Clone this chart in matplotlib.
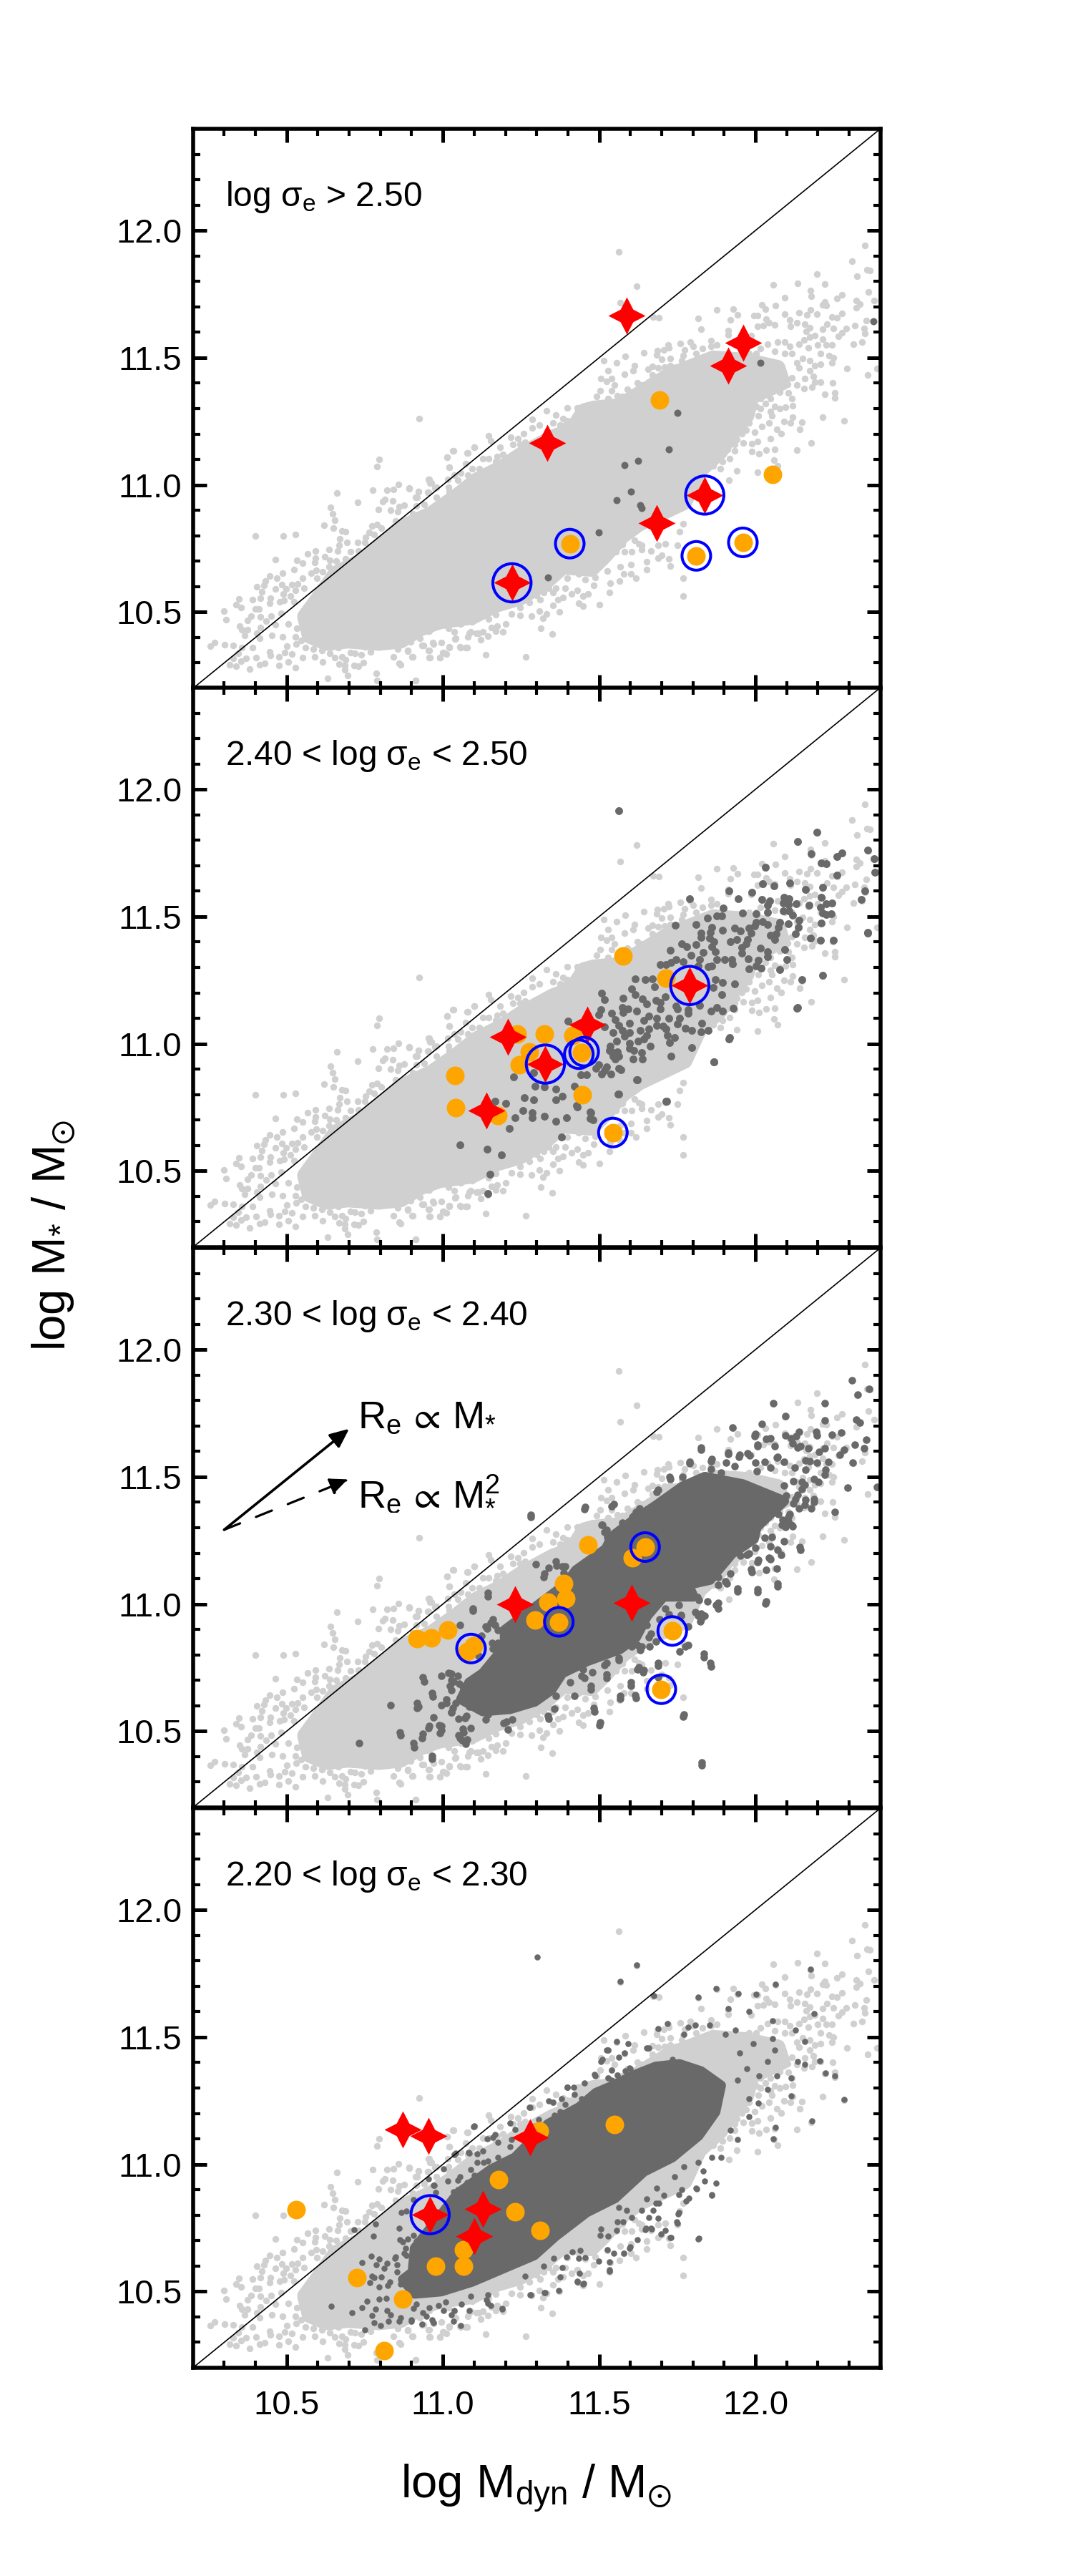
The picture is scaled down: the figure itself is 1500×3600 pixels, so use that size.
import matplotlib
matplotlib.use("Agg")
import matplotlib.pyplot as plt
import matplotlib.ticker as mticker
from matplotlib.path import Path

plt.rcParams['font.family'] = ['Liberation Sans', 'DejaVu Sans']
plt.rcParams['mathtext.fontset'] = 'custom'
plt.rcParams['mathtext.rm'] = 'Liberation Sans'
plt.rcParams['mathtext.it'] = 'Liberation Sans'
plt.rcParams['mathtext.bf'] = 'Liberation Sans'
plt.rcParams['mathtext.fallback'] = 'stix'

# dense part of the shared grey sample (outline)
grey_core = [(10.559,10.482),(10.604,10.557),(10.658,10.651),(10.734,10.698),(10.81,10.773),(10.864,10.83),(10.964,10.886),(11.041,10.952),(11.109,11.018),(11.186,11.065),(11.254,11.121),(11.353,11.187),(11.414,11.215),(11.453,11.29),(11.483,11.30),(11.567,11.31),(11.651,11.375),(11.72,11.427),(11.788,11.46),(11.865,11.497),(11.971,11.488),(12.071,11.46),(12.086,11.403),(11.987,11.347),(11.971,11.272),(11.926,11.206),(11.887,11.131),(11.819,11.055),(11.773,10.933),(11.628,10.848),(11.575,10.801),(11.514,10.717),(11.475,10.67),(11.384,10.679),(11.323,10.613),(11.247,10.557),(11.17,10.529),(11.094,10.482),(10.987,10.463),(10.926,10.435),(10.865,10.388),(10.795,10.379),(10.696,10.388),(10.627,10.379),(10.574,10.407)]

grey_low = [(10.925,11.260),(10.795,11.10),(10.788,11.073),(10.66,10.967),(10.727,10.932),(10.64,10.912),(10.646,10.886),(10.655,10.86),(10.62,10.841),(10.65,10.83),(10.677,10.82),(10.688,10.817),(10.40,10.799),(10.488,10.798),(10.527,10.804),(10.669,10.787),(10.667,10.764),(10.692,10.773),(10.727,10.773),(10.593,10.74),(10.636,10.747),(10.662,10.74),(10.568,10.729),(10.623,10.717),(10.592,10.712),(10.464,10.706),(10.532,10.703),(10.551,10.693),(10.591,10.696),(10.639,10.703),(10.658,10.70),(10.524,10.668),(10.487,10.652),(10.578,10.654),(10.595,10.665),(10.616,10.659),(10.635,10.677),(10.446,10.642),(10.469,10.632),(10.433,10.623),(10.551,10.632),(10.597,10.634),(10.428,10.606),(10.404,10.599),(10.485,10.608),(10.517,10.609),(10.536,10.612),(10.463,10.59),(10.42,10.581),(10.498,10.59),(10.528,10.585),(10.555,10.595),(10.49,10.571),(10.511,10.562),(10.347,10.552),(10.391,10.55),(10.417,10.554),(10.448,10.555),(10.337,10.529),(10.355,10.517),(10.40,10.512),(10.412,10.512),(10.446,10.536),(10.477,10.54),(10.492,10.545),(10.524,10.54),(10.299,10.504),(10.305,10.471),(10.385,10.484),(10.416,10.482),(10.45,10.484),(10.482,10.496),(10.375,10.468),(10.434,10.465),(10.349,10.446),(10.356,10.43),(10.375,10.43),(10.417,10.44),(10.505,10.454),(10.463,10.449),(10.366,10.407),(10.404,10.418),(10.414,10.397),(10.452,10.407),(10.486,10.402),(10.528,10.402),(10.532,10.435),(10.546,10.388),(10.255,10.367),(10.269,10.379),(10.302,10.371),(10.328,10.369),(10.356,10.36),(10.391,10.36),(10.50,10.366),(10.53,10.374),(10.559,10.36),(10.585,10.355),(10.446,10.343),(10.494,10.341),(10.517,10.336),(10.346,10.339),(10.612,10.35),(10.639,10.339),(10.704,10.341),(10.719,10.339),(10.33,10.317),(10.369,10.317),(10.402,10.32),(10.447,10.33),(10.475,10.324),(10.551,10.322),(10.589,10.324),(10.654,10.32),(10.677,10.324),(10.738,10.332),(10.768,10.343),(10.841,10.324),(10.902,10.324),(10.957,10.322),(10.99,10.32),(10.317,10.292),(10.337,10.286),(10.354,10.307),(10.414,10.294),(10.43,10.299),(10.476,10.291),(10.505,10.305),(10.527,10.282),(10.614,10.303),(10.667,10.296),(10.685,10.289),(10.688,10.313),(10.715,10.289),(10.73,10.286),(10.746,10.301),(10.86,10.299),(10.382,10.277),(10.685,10.273),(10.696,10.252),(10.631,10.238),(10.786,10.258),(10.789,10.23),(10.912,10.231),(10.952,10.426),(11.036,10.421),(11.085,10.416),(11.108,10.418),(11.055,10.362),(11.074,10.36),(11.02,10.364),(10.967,10.379),(10.933,10.369),(10.887,10.35),(10.856,10.355),(10.795,10.364),(10.749,10.364),(10.665,10.36),(10.643,10.364),(10.955,10.35),(11.001,10.341),(11.039,10.393),(11.013,11.11),(11.032,11.135),(11.077,11.126),(11.10,11.148),(11.02,11.07),(11.074,11.084),(10.955,11.022),(10.959,11.008),(11.016,11.022),(11.036,11.037),(10.893,10.985),(10.858,11.002),(10.822,10.98),(10.841,10.982),(10.775,10.978),(10.921,10.975),(10.952,10.971),(10.974,10.988),(10.814,10.944),(10.807,10.933),(10.839,10.936),(10.913,10.952),(10.875,10.919),(10.86,10.914),(10.794,10.903),(10.833,10.9),(10.856,10.896),(10.916,10.916),(10.849,10.858),(10.772,10.839),(10.789,10.844),(10.803,10.83),(10.763,10.813),(10.78,10.806),(10.753,10.794),(10.883,10.849),(10.73,10.74),(10.704,10.736),(10.749,10.773),(10.688,10.708)]

grey_high = [(11.563,11.916),(11.619,11.781),(11.568,11.716),(11.672,11.659),(11.691,11.657),(11.642,11.519),(11.584,11.504),(11.557,11.481),(11.514,11.488),(11.817,11.655),(11.826,11.613),(11.876,11.689),(11.929,11.692),(11.943,11.669),(11.92,11.649),(11.996,11.667),(12.006,11.667),(12.021,11.707),(12.031,11.692),(12.057,11.787),(12.134,11.792),(12.065,11.706),(12.093,11.735),(12.095,11.670),(12.034,11.653),(12.006,11.624),(12.026,11.626),(12.044,11.638),(12.061,11.629),(12.11,11.648),(12.112,11.624),(12.132,11.638),(12.139,11.676),(12.166,11.669),(12.177,11.688),(12.176,11.765),(12.179,11.743),(12.197,11.828),(12.222,11.789),(12.216,11.709),(12.227,11.704),(12.222,11.718),(12.261,11.732),(12.277,11.746),(12.309,11.879),(12.326,11.821),(12.351,11.942),(12.357,11.845),(12.366,11.842),(12.361,11.758),(12.322,11.726),(12.334,11.712),(12.322,11.697),(12.38,11.725),(12.197,11.671),(12.245,11.66),(12.26,11.657),(12.277,11.674),(12.355,11.646),(12.319,11.627),(12.347,11.615),(12.351,11.596),(12.29,11.615),(12.277,11.597),(12.265,11.584),(12.25,11.615),(12.229,11.632),(12.216,11.613),(12.174,11.618),(12.158,11.632),(12.162,11.604),(12.189,11.587),(12.174,11.582),(12.155,11.571),(12.216,11.573),(12.313,11.554),(12.342,11.563),(12.246,11.549),(12.227,11.549),(12.2,11.549),(12.17,11.54),(12.139,11.554),(12.25,11.499),(12.246,11.479),(12.208,11.516),(12.235,11.507),(12.294,11.457),(12.359,11.433),(12.39,11.457),(12.208,11.474),(12.189,11.469),(12.174,11.488),(12.151,11.497),(12.132,11.479),(12.139,11.46),(12.174,11.45),(12.158,11.418),(12.185,11.427),(12.208,11.403),(12.248,11.401),(12.189,11.403),(12.181,11.385),(12.155,11.38),(12.132,11.394),(12.116,11.422),(12.103,11.396),(12.086,11.417),(12.071,11.389),(12.078,11.366),(12.105,11.361),(12.255,11.361),(12.254,11.342),(12.223,11.356),(12.116,11.338),(12.096,11.307),(12.119,11.311),(12.077,11.3),(12.216,11.265),(12.283,11.251),(12.149,11.246),(12.119,11.267),(12.113,11.243),(12.091,11.25),(12.052,11.272),(12.044,11.243),(12.021,11.231),(12.143,11.218),(12.068,11.218),(12.082,11.201),(12.048,11.181),(11.997,11.208),(11.971,11.215),(11.956,11.201),(12.006,11.17),(11.961,11.164),(11.988,11.161),(12.179,11.165),(12.133,11.137),(12.063,11.14),(12.035,11.137),(12.012,11.123),(11.988,11.131),(12.059,11.097),(12.071,11.076),(12.006,11.051),(11.941,11.055),(11.916,11.018),(11.933,11.135),(11.918,11.102),(11.791,11.563),(11.76,11.557),(11.72,11.549),(11.723,11.54),(11.706,11.53),(11.687,11.527),(11.683,11.511),(11.727,11.497),(11.70,11.493),(11.773,11.53),(11.8,11.544),(11.83,11.535),(11.857,11.568),(11.876,11.549),(11.857,11.544),(11.913,11.606),(11.914,11.591),(11.987,11.587),(11.769,11.507),(11.807,11.479),(11.746,11.463),(11.727,11.469),(11.71,11.463),(11.67,11.467),(11.657,11.455),(11.613,11.469),(11.609,11.448),(11.581,11.436),(11.529,11.448),(11.506,11.417),(11.54,11.417),(11.548,11.392),(11.525,11.408),(11.504,11.37),(11.54,11.369),(11.59,11.375),(11.622,11.401),(11.659,11.403),(11.559,11.352),(11.529,11.338),(11.491,11.347)]

grey_mid = [(11.769,10.632),(11.769,10.562),(11.727,10.681),(11.688,10.712),(11.701,10.724),(11.723,10.71),(11.75,10.764),(11.651,10.667),(11.653,10.698),(11.601,10.686),(11.601,10.651),(11.617,10.634),(11.579,10.649),(11.567,10.679),(11.566,10.621),(11.535,10.613),(11.533,10.576),(11.502,10.529),(11.527,10.662),(11.498,10.679),(11.487,10.637),(11.483,10.604),(11.464,10.571),(11.449,10.524),(11.434,10.535),(11.449,10.562),(11.43,10.585),(11.411,10.571),(11.384,10.557),(11.369,10.55),(11.372,10.5),(11.353,10.527),(11.331,10.493),(11.308,10.505),(11.321,10.477),(11.283,10.484),(11.314,10.435),(11.351,10.414),(11.247,10.488),(11.22,10.493),(11.201,10.453),(11.192,10.422),(11.174,10.446),(11.155,10.439),(11.17,10.425),(11.144,10.406),(11.128,10.421),(11.113,10.418),(11.09,10.421),(11.079,10.402),(11.121,10.391),(11.056,10.361),(11.077,10.36),(11.021,10.361),(10.996,10.381),(11.041,10.397),(10.97,10.374),(10.938,10.369),(10.957,10.35),(10.999,10.341),(11.01,10.336),(10.958,10.322),(10.991,10.322),(10.903,10.324),(10.888,10.345),(11.136,10.331),(11.266,10.324),(10.912,10.231),(10.865,10.294),(11.276,10.538),(11.311,10.548),(11.353,10.576),(11.392,10.595),(11.434,10.651),(11.456,10.627),(11.529,10.726),(11.554,10.738),(11.581,10.736),(11.605,10.736),(11.636,10.745),(11.666,10.74),(11.712,10.769),(11.75,10.91),(11.769,10.848),(11.758,10.815),(11.575,10.766),(11.628,10.769),(11.689,10.764),(11.147,11.194),(11.153,11.173),(11.1,11.149),(11.034,11.135),(11.079,11.126),(11.014,11.11),(11.021,11.069),(10.957,11.022),(10.963,11.008),(10.893,10.987),(10.922,10.975),(10.979,10.99),(10.955,10.971),(10.917,10.952),(11.048,11.018),(11.021,10.973),(11.094,11.065),(11.128,11.102),(11.174,11.112),(11.182,11.149),(11.216,11.187),(11.239,11.182),(11.258,11.201),(11.285,11.257),(11.332,11.292),(11.361,11.276),(11.384,11.262),(11.392,11.234),(11.414,11.248),(11.399,11.302),(11.43,11.304)]

grey_fringe = [(12.017,11.403),(12.032,11.366),(12.048,11.338),(12.017,11.338),(12.002,11.356),(12.063,11.422),(12.048,11.46),(12.032,11.479),(12.078,11.469),(12.093,11.516),(12.116,11.516),(12.063,11.526),(12.04,11.554),(12.093,11.563),(12.071,11.563),(12.109,11.544),(12.017,11.3),(12.032,11.319),(12.002,11.309),(11.987,11.281),(12.01,11.272),(11.979,11.243),(12.063,11.309),(12.048,11.29),(11.949,11.225),(11.941,11.178),(11.91,11.14),(11.933,11.159),(11.88,11.112),(11.895,11.093),(11.865,11.074),(11.887,11.065),(11.849,11.479),(11.826,11.497),(11.811,11.516),(11.865,11.516),(11.765,11.488),(11.742,11.46),(11.689,11.46),(11.67,11.432),(11.704,11.441),(11.636,11.394),(11.605,11.366),(11.575,11.347),(11.514,11.319),(11.544,11.319),(11.651,11.366),(11.987,11.488),(12.002,11.516),(11.979,11.516),(12.017,11.535),(11.399,10.632),(11.414,10.67),(11.445,10.679),(11.475,10.679),(11.491,10.717),(11.521,10.745),(11.544,10.782),(11.323,10.576),(11.338,10.595),(11.361,10.595),(11.3,10.566),(11.247,10.519),(11.17,10.491),(11.147,10.472),(11.117,10.482),(11.094,10.463),(11.056,10.453),(11.018,10.435),(10.987,10.444),(10.957,10.425),(10.926,10.397),(10.896,10.383),(11.613,10.783),(11.636,10.764),(11.018,10.99),(10.979,10.952),(10.941,10.924),(10.903,10.886),(11.056,11.046),(11.079,11.037),(11.117,11.065),(11.147,11.102),(11.17,11.093),(11.193,11.121),(11.224,11.159),(11.247,11.159),(11.262,11.168),(11.285,11.225),(11.308,11.234),(11.353,11.243),(11.376,11.234),(11.399,11.253)]

# panel 1: log sigma > 2.50
dark_1 = [(12.377,11.643),(12.017,11.481),(11.751,11.284),(11.723,11.14),(11.581,11.078),(11.625,11.094),(11.602,10.975),(11.555,10.941),(11.632,10.921),(11.637,10.909),(11.498,10.812),(11.336,10.637)]
orange_1 = [(11.693,11.334),(12.055,11.041),(11.406,10.769),(11.811,10.721),(11.96,10.774)]
stars_1 = [(11.589,11.666),(11.96,11.559),(11.914,11.468),(11.333,11.166),(11.838,10.96),(11.683,10.851),(11.221,10.615)]
ring_big_1 = [(11.838,10.96),(11.221,10.615)]
ring_small_1 = [(11.406,10.769),(11.811,10.721),(11.96,10.774)]

# panel 2: 2.40 - 2.50
dark_2 = [(12.198,11.832),(12.134,11.795),(12.36,11.761),(12.379,11.728),(12.383,11.674),(12.276,11.751),(12.261,11.735),(12.179,11.747),(12.211,11.711),(12.227,11.707),(12.031,11.695),(12.26,11.662),(12.024,11.629),(12.06,11.62),(12.111,11.633),(12.215,11.616),(12.161,11.606),(12.35,11.602),(12.34,11.567),(11.915,11.601),(11.989,11.594),(11.944,11.57),(11.789,11.57),(12.211,11.575),(12.021,11.566),(12.092,11.575),(12.107,11.57),(12.046,11.561),(12.04,11.545),(12.089,11.552),(12.105,11.547),(12.13,11.55),(12.172,11.545),(12.227,11.55),(12.246,11.554),(12.208,11.536),(11.897,11.533),(11.958,11.514),(12.002,11.512),(12.04,11.518),(12.089,11.523),(12.108,11.523),(12.215,11.514),(12.242,11.512),(12.227,11.509),(12.118,11.505),(11.876,11.502),(11.893,11.503),(11.847,11.495),(12.139,11.486),(12.024,11.481),(12.04,11.47),(12.002,11.476),(12.078,11.476),(12.105,11.472),(12.211,11.474),(11.811,11.469),(11.744,11.467),(11.86,11.458),(11.933,11.456),(11.979,11.456),(11.998,11.462),(12.074,11.458),(12.137,11.458),(11.895,11.446),(11.952,11.443),(11.855,11.439),(11.825,11.436),(11.986,11.436),(12.359,11.437),(12.066,11.432),(12.128,11.432),(12.047,11.427),(11.826,11.418),(11.853,11.415),(12.177,11.415),(12.061,11.411),(11.975,11.411),(11.94,11.411),(12.208,11.406),(12.249,11.406),(11.921,11.401),(11.868,11.401),(11.971,11.392),(11.765,11.392),(11.811,11.39),(11.78,11.382),(11.86,11.382),(11.956,11.378),(12.015,11.376),(12.093,11.371),(11.727,11.368),(11.872,11.363),(11.832,11.359),(12.04,11.363),(11.957,11.357),(11.794,11.348),(12.038,11.343),(11.977,11.335),(11.902,11.331),(11.876,11.331),(11.746,11.331),(11.924,11.331),(11.769,11.323),(11.822,11.331),(12.009,11.329),(12.101,11.331),(11.731,11.321),(11.715,11.312),(11.695,11.31),(11.927,11.314),(11.86,11.307),(11.849,11.302),(12.002,11.307),(11.818,11.307),(12.018,11.296),(11.979,11.293),(12.078,11.291),(12.215,11.269),(11.872,11.251),(11.895,11.241),(11.934,11.235),(12.148,11.251),(11.615,11.255),(11.647,11.251),(11.67,11.255),(11.677,11.223),(11.605,11.216),(11.864,11.221),(11.616,11.194),(11.893,11.192),(11.509,11.199),(11.517,11.173),(11.576,11.18),(11.712,11.185),(11.639,11.175),(11.681,11.171),(11.696,11.161),(11.651,11.157),(11.822,11.152),(11.746,11.147),(11.876,11.143),(11.929,11.14),(12.133,11.141),(11.506,11.133),(11.574,11.143),(11.593,11.138),(11.619,11.128),(11.696,11.138),(11.75,11.138),(11.784,11.133),(11.857,11.128),(11.895,11.128),(11.498,11.114),(11.54,11.119),(11.576,11.124),(11.784,11.119),(11.658,11.11),(11.723,11.1),(11.757,11.1),(11.685,11.1),(11.551,11.095),(11.597,11.081),(11.643,11.091),(11.828,11.08),(11.685,11.072),(11.704,11.069),(11.75,11.077),(11.563,11.072),(11.517,11.067),(11.776,11.06),(11.796,11.053),(11.658,11.058),(11.849,11.053),(11.632,11.053),(11.574,11.053),(11.715,11.058),(11.544,11.044),(11.826,11.046),(11.597,11.044),(11.651,11.034),(11.719,11.034),(11.915,11.02),(11.742,11.025),(11.582,11.03),(11.555,11.011),(11.643,11.018),(11.624,11.011),(11.725,11.006),(11.597,11.001),(11.664,10.99),(11.796,10.986),(11.536,10.99),(11.597,10.983),(11.612,10.973),(11.635,10.964),(11.54,10.969),(11.559,10.969),(11.544,10.95),(11.563,10.95),(11.551,10.939),(11.609,10.94),(11.638,10.94),(11.731,10.95),(11.867,10.93),(11.498,10.917),(11.523,10.908),(11.49,10.903),(11.569,10.898),(11.46,10.879),(11.441,10.879),(11.509,10.882),(11.538,10.882),(11.62,10.858),(11.715,10.774),(11.56,10.801),(11.42,10.832),(11.429,10.752),(11.471,10.732),(11.471,10.705),(11.227,10.87),(11.291,10.887),(11.401,11.088),(11.294,10.834),(11.324,10.83),(11.361,10.823),(11.167,10.773),(11.2,10.765),(11.26,10.787),(11.291,10.78),(11.361,10.78),(11.383,10.794),(11.257,10.737),(11.286,10.73),(11.324,10.715),(11.231,10.708),(11.286,10.708),(11.395,10.708),(11.361,10.694),(11.428,10.758),(11.473,10.73),(11.48,10.701),(11.212,10.668),(11.38,10.633),(11.055,10.603),(11.142,10.586),(11.187,10.562),(11.151,10.486),(11.145,10.411),(11.562,10.801),(11.716,10.775),(11.562,10.902),(11.622,10.859),(11.868,10.93),(11.917,11.024),(12.136,11.143),(12.36,11.435),(11.562,11.916),(11.517,10.895),(11.532,10.973)]
orange_2 = [(11.577,11.345),(11.714,11.257),(11.237,11.039),(11.324,11.039),(11.416,11.034),(11.276,10.968),(11.245,10.916),(11.443,10.966),(11.038,10.874),(11.04,10.75),(11.175,10.718),(11.446,10.798),(11.544,10.651)]
stars_2 = [(11.209,11.027),(11.461,11.074),(11.328,10.92),(11.139,10.737),(11.79,11.229)]
ring_big_2 = [(11.328,10.92),(11.79,11.229)]
ring_small_2 = [(11.435,10.959),(11.452,10.969),(11.544,10.651)]

# panel 3: 2.30 - 2.40
dark_core_3 = [(11.084,10.691),(11.128,10.728),(11.198,10.832),(11.198,10.898),(11.391,11.076),(11.426,11.133),(11.522,11.217),(11.54,11.264),(11.61,11.33),(11.68,11.386),(11.767,11.462),(11.838,11.5),(11.96,11.471),(12.092,11.405),(12.004,11.302),(11.995,11.255),(11.925,11.198),(11.855,11.095),(11.785,11.076),(11.802,11.029),(11.706,11.029),(11.654,10.954),(11.618,10.869),(11.566,10.822),(11.461,10.775),(11.382,10.728),(11.347,10.662),(11.294,10.616),(11.215,10.587),(11.128,10.578),(11.058,10.625)]
dark_3 = [(12.31,11.88),(12.364,11.845),(12.327,11.822),(12.057,11.789),(12.222,11.789),(12.096,11.738),(12.222,11.722),(12.322,11.725),(12.334,11.713),(12.021,11.709),(11.927,11.695),(12.195,11.678),(12.275,11.675),(12.0,11.669),(12.14,11.678),(12.114,11.653),(12.245,11.666),(12.355,11.646),(12.047,11.653),(12.006,11.627),(11.826,11.616),(12.319,11.627),(12.349,11.613),(12.069,11.577),(11.912,11.596),(11.95,11.587),(11.976,11.592),(12.136,11.616),(11.86,11.57),(12.285,11.606),(12.27,11.587),(12.203,11.599),(11.789,11.56),(12.233,11.56),(12.311,11.556),(12.173,11.563),(11.726,11.499),(12.389,11.46),(12.295,11.458),(11.689,11.448),(12.225,11.527),(12.188,11.491),(12.158,11.47),(12.121,11.484),(12.099,11.427),(12.188,11.413),(12.158,11.391),(12.128,11.413),(12.255,11.362),(12.114,11.312),(12.084,11.312),(12.106,11.341),(11.629,11.377),(11.547,11.394),(11.455,11.381),(11.282,11.35),(11.607,11.341),(11.51,11.312),(11.525,11.291),(11.562,11.284),(12.143,11.224),(12.047,11.226),(12.009,11.172),(12.044,11.183),(11.987,11.136),(12.069,11.14),(11.979,11.198),(12.072,11.08),(11.942,11.062),(12.006,11.057),(12.035,11.009),(11.905,11.09),(11.92,11.119),(11.361,11.169),(11.324,11.119),(11.383,11.148),(11.145,11.043),(11.096,10.983),(11.16,10.94),(11.137,10.911),(11.175,10.897),(11.815,11.026),(11.875,10.997),(11.808,10.968),(11.756,10.997),(11.711,10.983),(11.827,10.961),(11.827,10.94),(11.763,10.954),(11.652,10.918),(11.666,10.883),(11.622,10.84),(11.637,10.832),(11.681,10.854),(11.786,10.84),(11.835,10.804),(11.856,10.768),(11.562,10.789),(11.525,10.768),(11.473,10.797),(11.443,10.754),(11.443,10.718),(11.689,10.768),(11.626,10.751),(11.644,10.739),(11.525,10.722),(11.473,10.678),(11.601,10.692),(11.689,10.711),(11.567,10.639),(11.616,10.642),(11.483,10.59),(11.503,10.536),(11.771,10.567),(11.829,10.378),(11.361,10.639),(11.336,10.56),(11.204,10.539),(11.145,10.567),(11.085,10.596),(11.041,10.61),(11.011,10.625),(10.996,10.603),(11.07,10.553),(11.063,10.51),(11.055,10.474),(11.078,10.467),(11.026,10.574),(10.988,10.524),(10.956,10.521),(10.996,10.503),(10.936,10.489),(10.862,10.496),(10.906,10.453),(10.966,10.403),(10.732,10.453),(10.832,10.603),(10.917,10.61),(10.921,10.596),(10.966,10.65),(10.936,10.711),(11.026,10.725),(11.033,10.696),(11.063,10.675),(11.026,10.66),(11.175,10.847),(11.16,10.825),(11.19,10.797),(11.115,10.797),(11.1,10.696)]
dark_3_detail = [(11.997,11.661),(12.096,11.664),(12.131,11.659),(12.197,11.664),(12.035,11.65),(12.061,11.622),(12.006,11.62),(12.118,11.631),(12.17,11.612),(12.144,11.622),(12.223,11.612),(11.826,11.607),(11.912,11.589),(11.947,11.579),(11.982,11.584),(11.859,11.563),(11.907,11.556),(11.789,11.554),(12.0,11.556),(12.07,11.579),(12.03,11.56),(12.091,11.56),(12.161,11.565),(12.197,11.556),(11.859,11.532),(11.934,11.542),(12.004,11.523),(12.048,11.537),(12.126,11.537),(12.223,11.509),(11.89,11.518),(11.767,11.5),(11.728,11.492),(12.161,11.528),(12.148,11.481),(12.201,11.481),(12.148,11.452),(12.135,11.429),(12.091,11.466),(12.161,11.41),(12.188,11.401),(11.684,11.441),(11.745,11.443),(11.719,11.424),(11.697,11.401),(12.122,11.396),(12.179,11.377),(12.139,11.377),(11.541,11.385),(11.454,11.373),(11.618,11.363),(11.61,11.349),(12.074,11.354),(12.109,11.354),(11.282,11.341),(11.509,11.311),(11.575,11.321),(12.087,11.33),(12.105,11.323),(12.118,11.305),(12.096,11.302),(11.518,11.283),(11.566,11.283),(11.526,11.264),(12.03,11.26),(12.052,11.264),(12.091,11.246),(12.144,11.213),(12.07,11.213),(12.083,11.194),(12.0,11.222),(11.973,11.194),(11.951,11.189),(12.048,11.175),(12.008,11.166),(12.035,11.135),(11.989,11.125),(12.07,11.07),(11.943,11.05),(12.006,11.046),(12.033,11.001),(11.881,11.105),(11.908,11.081),(11.881,11.076),(11.297,11.156),(11.363,11.152),(11.338,11.142),(11.391,11.147),(11.386,11.123),(11.322,11.107),(11.82,11.015),(11.846,11.01),(11.881,11.006),(11.881,10.982),(11.837,10.954),(11.816,10.954),(11.824,10.931),(11.763,10.957),(11.724,10.959),(11.693,10.94),(11.785,10.912),(11.776,10.832),(11.757,10.813),(11.145,11.031),(11.096,10.973),(11.055,10.918),(11.154,10.926),(11.167,10.917),(11.141,10.903),(11.123,10.874),(11.157,10.846),(11.172,10.827),(10.939,10.696),(10.996,10.719),(11.018,10.729),(11.047,10.719),(11.027,10.7),(11.053,10.686),(11.023,10.677),(10.968,10.636),(10.918,10.592),(11.01,10.611),(11.031,10.592),(11.027,10.573),(11.075,10.559),(11.049,10.55),(10.97,10.555),(10.953,10.512),(10.996,10.522),(10.99,10.492),(11.088,10.511),(11.066,10.494),(11.049,10.484),(11.062,10.465),(11.073,10.451),(10.933,10.473),(10.909,10.437),(10.966,10.392),(10.865,10.484),(11.194,10.531),(11.207,10.506),(11.222,10.545),(11.138,10.545),(11.357,10.587),(11.338,10.55),(11.421,10.639),(11.474,10.664),(11.484,10.578),(11.502,10.523),(11.524,10.709),(11.562,10.78),(11.605,10.832),(11.632,10.818),(11.662,10.832),(11.658,10.87),(11.636,10.912),(11.689,10.756),(11.623,10.742),(11.64,10.733),(11.601,10.679),(11.568,10.627),(11.617,10.63),(11.769,10.556),(11.835,10.792),(11.857,10.755),(11.829,10.365),(11.518,10.761),(11.478,10.733),(11.452,10.71),(11.408,10.691),(11.448,10.743)]
orange_3 = [(11.465,11.232),(11.647,11.224),(11.607,11.183),(11.386,11.08),(11.394,11.021),(11.336,11.007),(11.294,10.937),(11.371,10.93),(11.015,10.897),(10.963,10.868),(10.917,10.864),(11.097,10.835),(11.078,10.814),(11.734,10.894),(11.699,10.665)]
stars_3 = [(11.231,11.0),(11.604,11.004)]
ring_small_3 = [(11.647,11.224),(11.371,10.93),(11.09,10.825),(11.734,10.894),(11.699,10.665)]
arrow_start = (10.30,11.292)
arrow_end_solid = (10.70,11.689)
arrow_end_dash = (10.70,11.49)
relation_x = 10.728
relation_y = [11.692, 11.391]

# panel 4: 2.20 - 2.30
dark_core_4 = [(10.903,10.576),(10.91,10.67),(11.048,10.886),(11.154,10.98),(11.231,11.027),(11.337,11.159),(11.437,11.225),(11.49,11.281),(11.544,11.309),(11.605,11.347),(11.681,11.384),(11.757,11.394),(11.826,11.366),(11.89,11.31),(11.872,11.206),(11.818,11.112),(11.734,11.027),(11.643,10.971),(11.551,10.867),(11.46,10.811),(11.36,10.717),(11.292,10.642),(11.2,10.594),(11.093,10.538),(10.994,10.5),(10.91,10.491),(10.872,10.547)]
dark_4 = [(11.301,11.814),(11.619,11.784),(11.567,11.719),(11.674,11.663),(11.875,11.69),(11.816,11.656),(11.944,11.672),(12.002,11.669),(12.176,11.766),(12.064,11.708),(11.912,11.613),(11.979,11.6),(11.786,11.538),(11.719,11.552),(11.689,11.534),(11.808,11.547),(11.853,11.547),(12.054,11.565),(12.188,11.592),(12.128,11.529),(11.935,11.529),(11.994,11.475),(11.905,11.511),(11.771,11.511),(11.659,11.457),(11.592,11.475),(11.555,11.484),(11.525,11.448),(11.51,11.412),(11.599,11.376),(12.054,11.493),(12.158,11.484),(12.061,11.448),(12.039,11.403),(11.95,11.439),(12.158,11.394),(12.207,11.407),(12.225,11.358),(12.255,11.349),(12.114,11.34),(12.069,11.349),(12.012,11.349),(11.972,11.376),(11.942,11.331),(12.114,11.268),(12.039,11.295),(12.009,11.242),(11.979,11.259),(12.283,11.254),(12.181,11.17),(12.064,11.146),(12.058,11.101),(11.979,11.188),(11.92,11.134),(11.942,11.098),(11.89,11.026),(11.86,10.882),(11.86,11.026),(11.816,11.008),(11.771,10.99),(11.813,10.904),(11.756,10.882),(11.756,10.811),(11.681,10.847),(11.711,10.739),(11.729,10.712),(11.82,10.708),(11.666,10.748),(11.649,10.748),(11.599,10.676),(11.532,10.586),(11.45,10.532),(11.431,10.541),(11.324,10.496),(11.279,10.487),(11.19,10.434),(11.145,10.452),(11.383,10.595),(11.435,10.631),(11.547,10.649),(11.622,10.703),(11.264,10.559),(11.354,10.631),(11.577,10.775),(11.503,10.721),(11.562,10.829),(11.652,10.864),(11.145,10.487),(11.085,10.425),(11.026,10.407),(10.966,10.389),(10.906,10.434),(10.899,10.389),(10.936,10.416),(10.832,10.407),(10.795,10.469),(10.772,10.559),(10.787,10.604),(10.824,10.523),(10.75,10.349),(10.716,10.742),(10.643,10.443),(10.71,10.416),(10.742,10.613),(10.862,10.703),(10.877,10.649),(10.847,10.631),(10.906,10.721),(10.966,10.793),(10.973,10.918),(11.033,10.891),(11.041,11.044),(11.1,11.152),(11.16,11.107),(11.085,11.044),(11.048,10.936),(11.13,11.008),(11.175,11.026),(11.279,11.224),(11.339,11.25),(11.376,11.206),(11.398,11.304),(11.443,11.259),(11.488,11.349),(11.54,11.331),(11.294,11.152),(11.219,11.098),(11.652,11.457),(11.734,11.412),(11.622,11.331),(11.562,11.421),(11.584,11.367),(12.136,11.403),(11.875,10.927),(11.778,10.855),(11.748,10.775)]
dark_4_detail = [(11.528,11.45),(11.58,11.439),(11.505,11.403),(11.54,11.37),(11.486,11.353),(11.559,11.351),(11.597,11.38),(11.452,11.321),(11.528,11.34),(11.399,11.304),(11.418,11.304),(11.421,11.276),(11.379,11.257),(11.353,11.245),(11.276,11.223),(11.392,11.234),(11.357,11.192),(11.307,11.177),(11.215,11.163),(11.099,11.149),(11.166,11.116),(11.141,11.099),(11.231,11.138),(11.175,11.085),(11.215,11.069),(11.036,11.039),(11.082,11.046),(11.109,11.041),(11.128,11.053),(11.109,11.008),(11.002,10.983),(11.09,10.98),(11.143,11.013),(10.954,10.942),(11.015,10.935),(11.055,10.952),(11.101,10.957),(10.971,10.916),(11.078,10.928),(11.047,10.9),(10.976,10.888),(10.906,10.86),(10.868,10.811),(10.883,10.815),(10.784,10.766),(10.861,10.75),(10.777,10.717),(10.887,10.707),(10.872,10.696),(10.914,10.698),(10.88,10.67),(10.77,10.639),(10.797,10.629),(10.849,10.637),(10.883,10.642),(10.822,10.611),(10.813,10.59),(10.853,10.604),(10.853,10.576),(10.78,10.555),(10.803,10.557),(10.765,10.536),(10.796,10.519),(10.83,10.538),(10.864,10.529),(10.758,10.463),(10.819,10.472),(10.742,10.437),(10.784,10.43),(10.822,10.425),(10.773,10.406),(10.826,10.383),(10.78,10.378),(10.8,10.367),(10.864,10.397),(10.899,10.383),(10.861,10.383),(10.933,10.373),(10.971,10.378),(10.948,10.402),(10.914,10.449),(10.956,10.435),(10.986,10.444),(11.009,10.458),(11.002,10.425),(11.036,10.425),(11.035,10.383),(11.057,10.367),(11.059,10.449),(11.09,10.482),(11.139,10.468),(11.153,10.444),(11.189,10.43),(11.282,10.486),(11.328,10.496),(11.37,10.503),(11.322,10.599),(11.376,10.557),(11.429,10.538),(11.448,10.529),(11.437,10.571),(11.532,10.58),(11.534,10.616),(11.498,10.618),(11.456,10.632),(11.414,10.656),(11.395,10.637),(11.527,10.665),(11.44,10.662),(11.578,10.651),(11.598,10.67),(11.555,10.74),(11.528,10.717),(11.505,10.745),(11.647,10.743),(11.667,10.745),(11.75,10.768),(11.753,10.806),(11.698,10.726),(11.727,10.712),(11.818,10.707),(11.788,10.867),(11.86,10.879),(11.811,10.905),(11.837,10.933),(11.834,10.975),(11.765,10.90),(11.742,10.952),(11.708,10.877),(11.685,10.905),(11.692,10.848),(11.673,10.82),(11.635,10.82),(11.689,10.787),(11.658,10.792),(11.605,10.792),(11.589,10.82),(11.559,10.773)]
orange_4 = [(10.531,10.821),(10.725,10.554),(10.872,10.469),(10.813,10.268),(10.976,10.599),(11.066,10.599),(11.067,10.663),(11.178,10.94),(11.231,10.812),(11.312,10.739),(11.309,11.13),(11.549,11.157)]
stars_4 = [(10.872,11.137),(10.954,11.112),(11.278,11.107),(11.127,10.825),(10.959,10.802),(11.1,10.717)]
ring_big_4 = [(10.959,10.802)]

panel_labels = [r"log $\mathrm{\sigma_e}$ > 2.50", r"2.40 < log $\mathrm{\sigma_e}$ < 2.50",
                r"2.30 < log $\mathrm{\sigma_e}$ < 2.40", r"2.20 < log $\mathrm{\sigma_e}$ < 2.30"]
major_ticks = [10.5, 11.0, 11.5, 12.0]
minor_ticks = [10.3, 10.4, 10.6, 10.7, 10.8, 10.9, 11.1, 11.2, 11.3, 11.4, 11.6, 11.7, 11.8, 11.9, 12.1, 12.2, 12.3]
limits = (10.2, 12.4)

GREY, DARK, ORANGE = '#d0d0d0', '#696969', '#ffa500'
star_marker = Path.unit_regular_star(4, innerCircle=0.48)

panels = [
    dict(dark=[dark_1], core=None, orange=orange_1, stars=stars_1, big=ring_big_1, small=ring_small_1, ds=52),
    dict(dark=[dark_2], core=None, orange=orange_2, stars=stars_2, big=ring_big_2, small=ring_small_2, ds=62),
    dict(dark=[dark_3, dark_3_detail], core=dark_core_3, orange=orange_3, stars=stars_3, big=[], small=ring_small_3, ds=58),
    dict(dark=[dark_4, dark_4_detail], core=dark_core_4, orange=orange_4, stars=stars_4, big=ring_big_4, small=[], ds=38),
]
tops = [180, 961, 1744, 2527]


def xy(pts):
    return [p[0] for p in pts], [p[1] for p in pts]


fig = plt.figure(figsize=(15, 36), dpi=100, facecolor='white')
for i, (p, top) in enumerate(zip(panels, tops)):
    ax = fig.add_axes([269.7 / 1500, 1 - (top + 782) / 3600, 961 / 1500, 782 / 3600])
    ax.set_xlim(limits)
    ax.set_ylim(limits)
    ax.fill(*xy(grey_core), color=GREY, lw=16, joinstyle='round', zorder=1)
    for g in (grey_low, grey_high, grey_mid, grey_fringe):
        ax.scatter(*xy(g), s=46, color=GREY, lw=0, zorder=1)
    if p['core']:
        ax.fill(*xy(p['core']), color=DARK, lw=10, joinstyle='round', zorder=2)
    for d in p['dark']:
        ax.scatter(*xy(d), s=p['ds'], color=DARK, lw=0, zorder=2)
    ax.plot(limits, limits, color='black', lw=1.2, zorder=3)
    ax.scatter(*xy(p['orange']), s=350, color=ORANGE, lw=0, zorder=4)
    ax.scatter(*xy(p['stars']), s=1400, marker=star_marker, color='#ff0000', lw=0, zorder=5)
    if p['big']:
        ax.scatter(*xy(p['big']), s=1480, facecolors='none', edgecolors='#0000ff', lw=2.9, zorder=6)
    if p['small']:
        ax.scatter(*xy(p['small']), s=830, facecolors='none', edgecolors='#0000ff', lw=2.9, zorder=6)

    ax.set_xticks(major_ticks)
    ax.set_yticks(major_ticks)
    ax.set_xticks(minor_ticks, minor=True)
    ax.set_yticks(minor_ticks, minor=True)
    ax.tick_params(which='major', direction='in', top=True, right=True, length=14, width=3.6,
                   labelsize=34, pad=11)
    ax.tick_params(which='minor', direction='in', top=True, right=True, length=7, width=3)
    ax.tick_params(axis='x', which='major', pad=22)
    ax.xaxis.set_major_formatter(mticker.FormatStrFormatter('%.1f'))
    ax.yaxis.set_major_formatter(mticker.FormatStrFormatter('%.1f'))
    if i < 3:
        ax.tick_params(axis='x', labelbottom=False)
    for s in ax.spines.values():
        s.set_linewidth(4)
    ax.text(0.047, 1 - 108 / 782, panel_labels[i], transform=ax.transAxes, fontsize=34.5,
            va='baseline', ha='left')
    if i == 2:
        ax.annotate('', xy=arrow_end_solid, xytext=arrow_start, zorder=7,
                    arrowprops=dict(arrowstyle='-|>,head_length=0.9,head_width=0.4', lw=2.6,
                                    color='black', shrinkA=0, shrinkB=0, mutation_scale=18))
        ax.annotate('', xy=arrow_end_dash, xytext=arrow_start, zorder=7,
                    arrowprops=dict(arrowstyle='-|>,head_length=0.9,head_width=0.4', lw=2.3,
                                    color='black', ls=(0, (7.5, 7.5)), shrinkA=0, shrinkB=0,
                                    mutation_scale=18))
        ax.text(relation_x, relation_y[0], r"R$_{\mathrm{e}}\,\propto\,$M$_{*}$", fontsize=39,
                va='baseline', zorder=7)
        ax.text(relation_x, relation_y[1], r"R$_{\mathrm{e}}\,\propto\,$M$_{*}^{2}$", fontsize=39,
                va='baseline', zorder=7)

fig.text(750 / 1500, 1 - 3492 / 3600, r"log M$_{\mathrm{dyn}}$ / M$_{\odot}$", fontsize=47,
         ha='center', va='baseline')
fig.text(91 / 1500, 1 - 1726 / 3600, r"log M$_{*}$ / M$_{\odot}$", fontsize=47, rotation=90,
         rotation_mode='anchor', ha='center', va='baseline')
fig.savefig('out.png', dpi=100, facecolor='white')
